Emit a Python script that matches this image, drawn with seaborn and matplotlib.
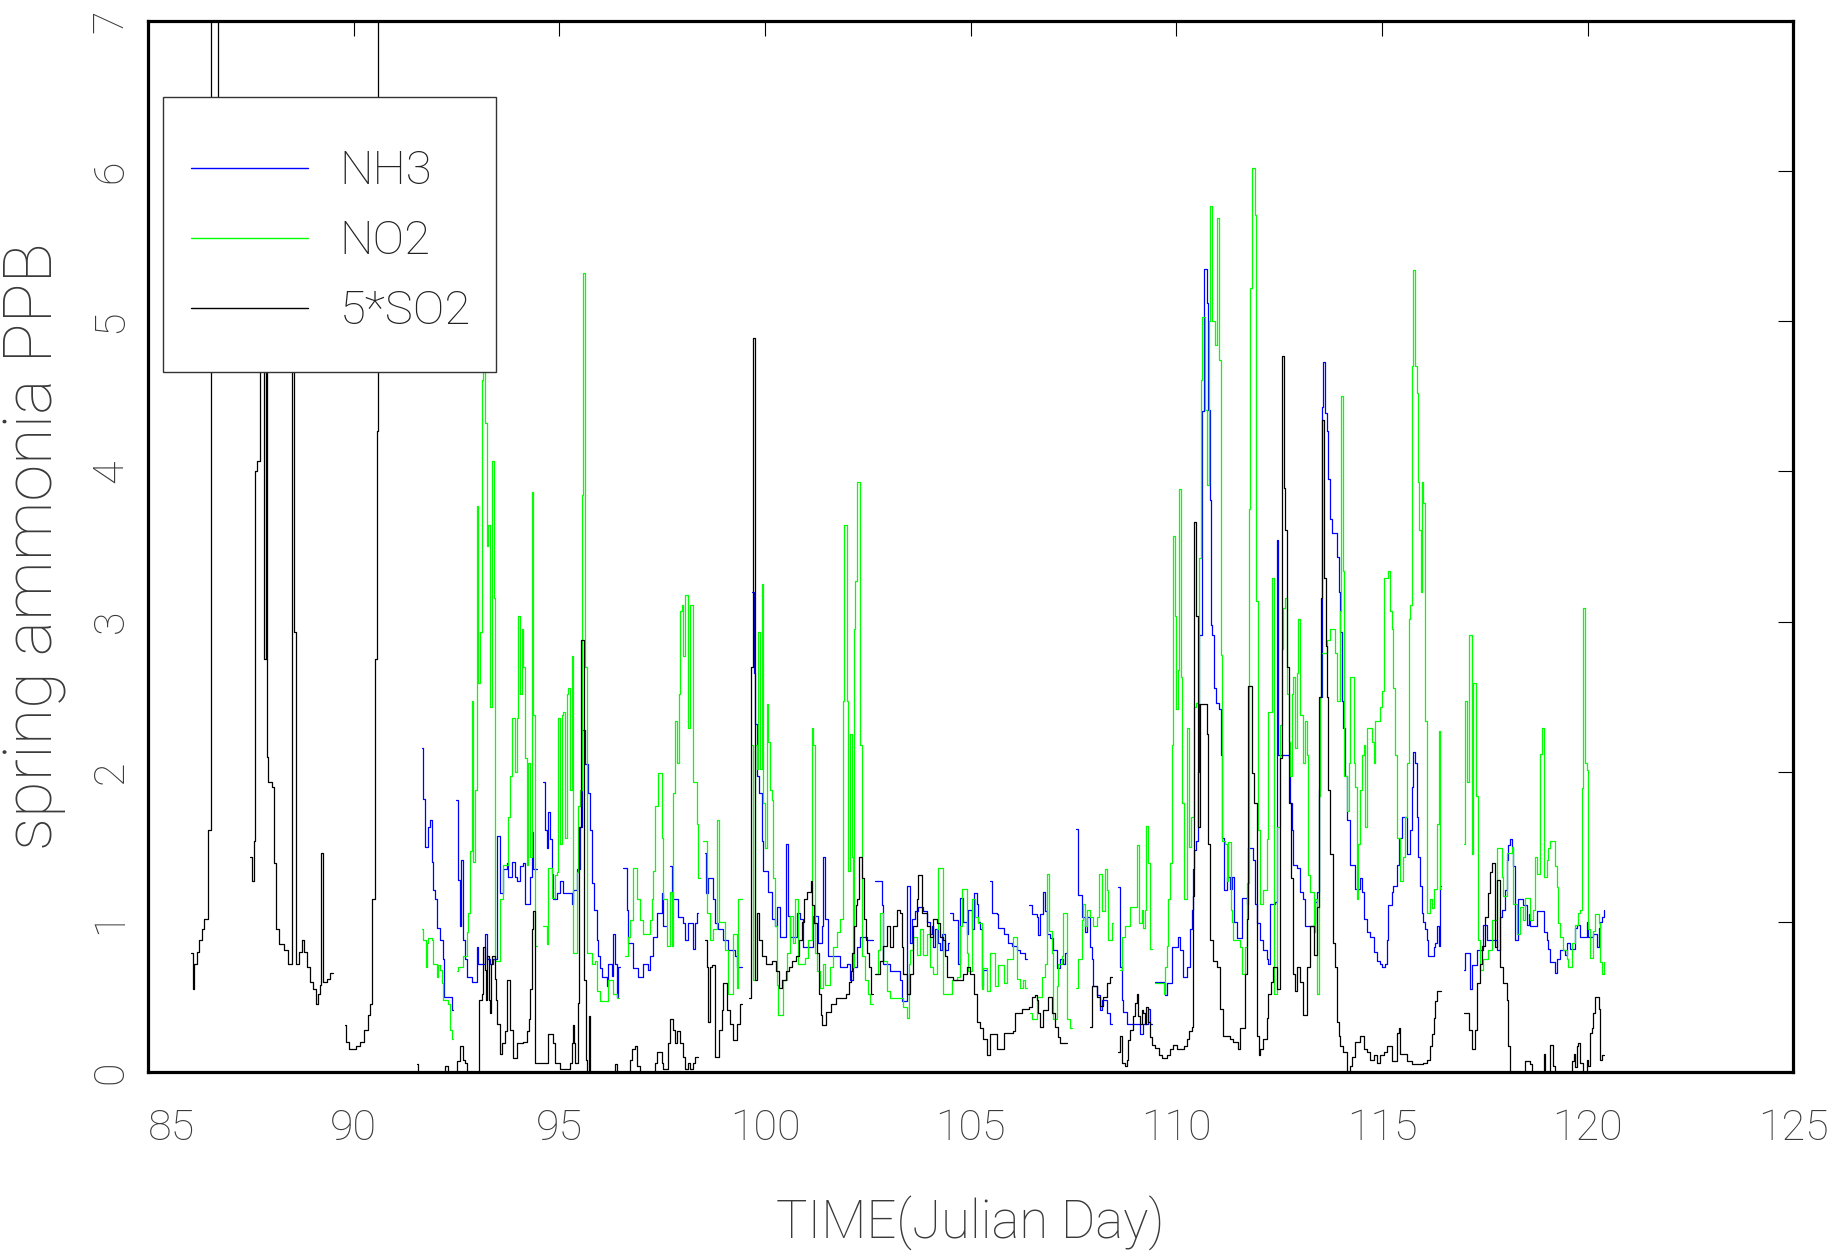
import numpy as np
import pandas as pd
import matplotlib
matplotlib.use("Agg")
import matplotlib.pyplot as plt
from matplotlib.lines import Line2D
from matplotlib.patches import Rectangle
import seaborn as sns

NAN = float("nan")

# ---------------- data (Julian day, ppb) ; NAN marks a gap ----------------
nh3_day = [91.655, 91.695, 91.736, 91.817, 91.858, 91.898, 91.939, 91.979, 92.02, 92.10, 92.165, 92.206, 92.344, 92.384, 92.425,
           92.49, 92.546, 92.587, 92.603, 92.652, 92.709, 92.749, 92.87, 92.992, 93.033, 93.195, 93.235, 93.316, 93.397, 93.495,
           93.56, 93.64, 93.72, 93.76, 93.84, 93.92, 93.965, 94.045, 94.127, 94.168, 94.289, 94.33, 94.37, 94.45,
           94.613, 94.654, 94.694, 94.735, 94.775, 94.816, 94.856, 94.937, 95.018, 95.10, 95.302, 95.343, 95.424, 95.505, 95.545,
           95.635, 95.708, 95.748, 95.79, 95.845, 95.91, 95.95, 95.99, 96.03, 96.15, 96.19, 96.275, 96.315, 96.356, 96.396, 96.437, 96.478,
           96.559, 96.64, 96.68, 96.80, 96.924, 97.045, 97.166, 97.207, 97.288, 97.369, 97.49, 97.53, 97.588,
           97.693, 97.734, 97.896, 98.018, 98.058, 98.14, 98.26, 98.30, 98.34, 98.38,
           98.544, 98.57, 98.625, 98.747, 98.787, 98.868, 98.99, 99.11, 99.274, 99.314, 99.44,
           99.679, 99.736, 99.76, 99.817, 99.866, 99.922, 99.963, 100.085, 100.166, 100.247, 100.287, 100.368, 100.514, 100.555,
           100.61, 100.773, 100.855, 100.936, 101.098, 101.179, 101.30, 101.381, 101.42, 101.462, 101.543, 101.706, 101.827,
           101.99, 102.07, 102.15, 102.233, 102.314, 102.476, 102.62,
           102.678, 102.84, 102.88, 103.043, 103.286, 103.327, 103.45, 103.53, 103.57, 103.65, 103.73, 103.85, 103.935, 104.015,
           104.056, 104.097, 104.137, 104.218, 104.259, 104.30, 104.38, 104.46, 104.486,
           104.502, 104.583, 104.705, 104.745, 104.826, 104.907, 104.948, 105.03, 105.07, 105.15, 105.19, 105.23, 105.27, 105.31, 105.41,
           105.474, 105.515, 105.637, 105.677, 105.80, 105.92, 106.00, 106.123, 106.20, 106.326, 106.366,
           106.43, 106.488, 106.61, 106.65, 106.69, 106.77, 106.812, 106.852, 106.933, 107.014, 107.095, 107.176, 107.257, 107.298, 107.355,
           107.566, 107.622, 107.703, 107.785, 107.825, 107.906, 107.946, 107.987, 108.068, 108.15, 108.19, 108.31, 108.39, 108.43,
           108.595, 108.635, 108.676, 108.717, 108.797, 109.122, 109.203, 109.325, 109.365, 109.42,
           109.487, 109.73, 109.77, 109.892, 110.054, 110.095, 110.175, 110.257, 110.338, 110.378, 110.419, 110.443, 110.48, 110.52,
           110.55, 110.62, 110.68, 110.75, 110.78, 110.81, 110.84, 110.88, 110.92, 110.97, 111.04, 111.08, 111.12, 111.17, 111.23,
           111.31, 111.35, 111.40, 111.47, 111.594, 111.715, 111.756, 111.878, 111.918, 111.96, 112.04, 112.12, 112.20, 112.24, 112.28,
           112.40, 112.445, 112.486, 112.73, 112.77, 112.81, 112.85, 112.93, 113.01, 113.09, 113.13, 113.34, 113.38, 113.42, 113.46,
           113.50, 113.54, 113.58, 113.62, 113.66, 113.70, 113.74, 113.78, 113.90, 113.945, 113.985, 114.026, 114.066, 114.107, 114.147,
           114.23, 114.35, 114.47, 114.51, 114.553, 114.63, 114.715, 114.80, 114.877, 114.96, 114.998, 115.08, 115.12, 115.16, 115.24,
           115.282, 115.363, 115.404, 115.485, 115.566, 115.606, 115.687, 115.728, 115.768, 115.81, 115.85, 115.89, 115.93, 115.97,
           116.01, 116.052, 116.09, 116.133, 116.215, 116.255, 116.30, 116.336, 116.377, 116.417, 116.43,
           116.985, 117.025, 117.147, 117.19, 117.31, 117.39, 117.47, 117.55, 117.63, 117.79, 117.875, 117.916, 117.997, 118.037,
           118.078, 118.118, 118.16, 118.20, 118.24, 118.32, 118.44, 118.52, 118.565, 118.605, 118.767, 118.93, 119.01, 119.05, 119.09,
           119.21, 119.25, 119.335, 119.456, 119.50, 119.577, 119.70, 119.74, 119.82, 119.98, 120.02, 120.145, 120.226, 120.267,
           120.31, 120.35, 120.39, 120.41]
nh3_ppb = [2.16, 1.82, 1.50, 1.63, 1.68, 1.40, 1.21, 1.15, 0.96, 0.88, 0.75, 0.50, 0.50, 0.41, NAN,
           1.81, 1.28, 0.97, 1.41, 0.88, 0.75, 0.63, 0.60, 0.83, 0.72, 0.92, 0.75, 0.72, 0.75, 1.57,
           1.19, 1.35, 1.39, 1.30, 1.40, 1.30, 1.27, 1.37, 1.39, 1.12, 1.30, 1.60, 1.35, NAN,
           1.93, 1.61, 1.49, 1.73, 1.55, 1.32, 1.15, 1.19, 1.27, 1.19, 1.12, 1.21, 1.35, 1.63, 2.28,
           2.05, 1.86, 1.61, 1.26, 1.08, 0.88, 0.77, 0.69, 0.63, 0.57, 0.72, 0.64, 0.92, 0.72, 0.50, 0.70, NAN,
           1.36, 1.08, 0.86, 0.69, 0.63, 0.72, 0.68, 0.77, 0.90, 1.06, 1.19, 0.97, NAN,
           1.37, 1.15, 1.03, 0.99, 0.88, 0.99, 0.82, 0.99, 1.06, NAN,
           1.46, 1.19, 1.29, 1.15, 0.99, 0.95, 0.88, 0.81, 0.77, 0.70, NAN,
           3.20, 2.66, 2.32, 1.97, 1.86, 1.54, 1.34, 1.20, 1.02, 0.97, 1.10, 0.90, 1.52, 1.04,
           0.90, 1.06, 1.02, 0.83, 0.83, 1.04, 0.86, 0.97, 1.43, 1.02, 0.77, 0.77, 0.70,
           0.72, 0.61, 0.70, 0.83, 0.90, 0.88, NAN,
           1.27, 1.11, 0.72, 0.67, 0.61, 0.47, 1.24, 0.86, 1.02, 1.07, 1.10, 1.07, 1.00, 0.92,
           0.97, 0.83, 0.95, 0.86, 0.81, 0.92, 0.81, 0.86, NAN,
           1.06, 1.01, 0.72, 1.16, 1.00, 0.92, 1.08, 0.95, 1.19, 1.12, 1.00, 0.95, 0.57, 0.68, NAN,
           1.27, 1.06, 1.05, 0.96, 0.92, 0.86, 0.84, 0.81, 0.79, 0.75, NAN,
           1.11, 1.05, 1.03, 0.91, 1.05, 1.20, 1.07, 0.92, 0.89, 0.81, 0.69, 0.75, 0.72, 0.79, NAN,
           1.62, 1.18, 1.03, 0.93, 1.03, 0.83, 0.75, 0.57, 0.51, 0.41, 0.48, 0.39, 0.32, NAN,
           1.23, 0.70, 0.48, 0.40, 0.32, 0.25, 0.32, 0.42, 0.32, NAN,
           0.60, 0.51, 0.59, 0.83, 0.90, 0.81, 0.63, 0.70, 0.95, 1.08, 1.35, 1.48, 1.54, 2.00,
           2.91, 4.40, 5.35, 5.12, 4.41, 3.81, 2.98, 2.91, 2.56, 2.46, 2.42, 2.11, 1.56, 1.21, 1.30,
           1.22, 1.30, 1.00, 0.89, 1.16, 1.12, 1.49, 1.41, 1.12, 0.99, 0.88, 0.81, 0.75, 0.72, 1.12,
           1.13, 3.54, 2.11, 2.09, 1.79, 1.61, 1.38, 1.36, 1.20, 1.15, 0.97, 0.99, 1.13, 1.20, 1.88,
           2.50, 4.43, 4.73, 4.39, 4.27, 3.95, 3.68, 3.59, 3.43, 3.20, 2.93, 2.47, 2.29, 1.97, 1.68,
           1.38, 1.22, 1.29, 1.20, 1.02, 0.93, 0.90, 0.80, 0.74, 0.72, 0.70, 0.72, 0.88, 1.11, 1.20,
           1.24, 1.38, 1.56, 1.70, 1.70, 1.45, 1.61, 1.90, 2.13, 2.06, 1.70, 1.43, 1.24, 1.06,
           1.00, 0.95, 0.88, 0.77, 0.77, 0.83, 0.86, 0.97, 0.84, 1.24, NAN,
           0.68, 0.79, 0.55, 0.71, 0.81, 0.81, 0.98, 0.88, 0.88, 0.81, 1.03, 1.08, 1.21, 1.41,
           1.51, 1.55, 1.50, 1.37, 0.88, 1.15, 1.11, 0.98, 1.05, 0.97, 1.07, 0.93, 0.88, 0.82, 0.73,
           0.66, 0.75, 0.81, 0.78, 0.86, 0.82, 0.96, 0.98, 0.90, 1.00, 0.90, 0.92, 0.83, 0.96,
           1.00, 1.03, 1.08, NAN]

no2_day = [91.655, 91.695, 91.76, 91.776, 91.817, 91.898, 91.939, 92.02, 92.06, 92.10, 92.14, 92.18, 92.30, 92.344, 92.384, 92.425,
           92.52, 92.546, 92.668, 92.75, 92.79, 92.83, 92.87, 92.91, 92.95, 92.99, 93.03, 93.07, 93.11, 93.15, 93.195, 93.235,
           93.276, 93.316, 93.357, 93.40, 93.438, 93.56, 93.64, 93.76, 93.80, 93.843, 93.924, 93.965, 94.005, 94.046, 94.086,
           94.127, 94.167, 94.208, 94.248, 94.29, 94.33, 94.37, 94.41, 94.45,
           94.613, 94.694, 94.735, 94.816, 94.897, 94.937, 94.978, 95.018, 95.059, 95.10, 95.14, 95.18, 95.22, 95.26, 95.30,
           95.34, 95.42, 95.464, 95.505, 95.545, 95.586, 95.634, 95.667, 95.79, 95.87, 95.91, 95.99, 96.15, 96.19, 96.315, 96.396, 96.45,
           96.60, 96.68, 96.72, 96.80, 96.88, 96.96, 97.045, 97.207, 97.247, 97.288, 97.33, 97.41, 97.49, 97.53, 97.61, 97.69,
           97.73, 97.77, 97.815, 97.855, 97.90, 97.936, 97.977, 98.017, 98.058, 98.14, 98.18, 98.26, 98.34, 98.38, 98.42,
           98.504, 98.585, 98.666, 98.747, 98.828, 98.89, 99.03, 99.112, 99.233, 99.315, 99.355, 99.436,
           99.679, 99.72, 99.76, 99.80, 99.84, 99.882, 99.922, 99.963, 100.0, 100.044, 100.085, 100.125, 100.166, 100.206,
           100.247, 100.287, 100.328, 100.45, 100.53, 100.61, 100.692, 100.733, 100.814, 100.976, 101.057, 101.138, 101.179,
           101.22, 101.26, 101.34, 101.42, 101.462, 101.584, 101.665, 101.746, 101.827, 101.892, 101.925, 101.99, 102.03,
           102.07, 102.11, 102.135, 102.167, 102.20, 102.233, 102.314, 102.37, 102.435, 102.516, 102.557, 102.638,
           102.703, 102.76, 102.80, 102.88, 102.962, 103.043, 103.367, 103.448, 103.49, 103.53, 103.61, 103.69, 103.77, 103.85,
           103.935, 104.015, 104.097, 104.178, 104.218, 104.324, 104.54, 104.664, 104.745, 104.786, 104.907, 104.948, 105.029,
           105.11, 105.19, 105.27, 105.31, 105.39, 105.47, 105.596, 105.677, 105.80, 105.88, 106.04, 106.12, 106.20, 106.285,
           106.326, 106.366,
           106.447, 106.488, 106.61, 106.73, 106.81, 106.852, 106.917, 106.974, 107.014, 107.095, 107.136, 107.217, 107.257,
           107.34, 107.42, 107.46,
           107.566, 107.622, 107.703, 107.744, 107.785, 107.825, 107.906, 107.987, 108.068, 108.11, 108.19, 108.27, 108.31,
           108.35, 108.43, 108.473,
           108.62, 108.676, 108.757, 108.88, 109.04, 109.057, 109.105, 109.16, 109.203, 109.244, 109.268, 109.325, 109.365, 109.42,
           109.487, 109.69, 109.73, 109.77, 109.81, 109.85, 109.892, 109.92, 109.97, 110.00, 110.04, 110.07, 110.11, 110.14,
           110.18, 110.26, 110.30, 110.36, 110.42, 110.48, 110.55, 110.59, 110.63, 110.71, 110.75, 110.79, 110.82, 110.87,
           110.94, 110.98, 111.04, 111.08, 111.12, 111.19, 111.23, 111.27, 111.33, 111.367, 111.39, 111.55, 111.594, 111.675,
           111.715, 111.77, 111.80, 111.85, 111.91, 111.94, 111.98, 112.04, 112.12, 112.20, 112.24, 112.32, 112.37, 112.45,
           112.526, 112.567, 112.607, 112.648, 112.688, 112.73, 112.77, 112.81, 112.85, 112.89, 112.93, 112.97, 113.01, 113.09,
           113.13, 113.17, 113.215, 113.256, 113.34, 113.378, 113.42, 113.46, 113.483, 113.523, 113.66, 113.74, 113.86, 113.90,
           113.97, 114.01, 114.066, 114.09, 114.16, 114.19, 114.23, 114.31, 114.35, 114.39, 114.43, 114.47, 114.51, 114.553,
           114.59, 114.634, 114.755, 114.80, 114.837, 114.96, 115.00, 115.04, 115.16, 115.20, 115.24, 115.28, 115.32, 115.363,
           115.444, 115.525, 115.566, 115.606, 115.647, 115.687, 115.728, 115.768, 115.81, 115.85, 115.89, 115.914, 115.955,
           115.98, 116.01, 116.052, 116.09, 116.174, 116.215, 116.255, 116.336, 116.377, 116.417, 116.43,
           116.985, 117.025, 117.065, 117.106, 117.13, 117.195, 117.227, 117.29, 117.325, 117.39, 117.47, 117.59, 117.67, 117.79,
           117.916, 117.956, 118.037, 118.16, 118.20, 118.28, 118.36, 118.44, 118.48, 118.605, 118.686, 118.727, 118.767, 118.85,
           118.89, 118.953, 119.01, 119.05, 119.09, 119.21, 119.25, 119.29, 119.335, 119.415, 119.50, 119.537, 119.618, 119.70,
           119.78, 119.82, 119.86, 119.90, 119.94, 119.98, 120.02, 120.06, 120.145, 120.186, 120.267, 120.31, 120.35, 120.39, 120.41]
no2_ppb = [0.95, 0.88, 0.70, 0.86, 0.89, 0.88, 0.72, 0.63, 0.71, 0.68, 0.59, 0.48, 0.45, 0.28, 0.22, NAN,
           0.67, 0.70, 0.77, 0.93, 1.06, 1.47, 2.47, 1.40, 1.88, 3.77, 2.59, 2.93, 4.61, 5.20, 4.32, 3.50,
           3.64, 2.43, 4.07, 3.16, 0.74, 1.15, 1.38, 1.70, 1.97, 2.36, 2.00, 2.36, 3.04, 2.52, 2.95,
           2.70, 2.09, 1.38, 2.06, 1.43, 3.86, 2.38, 0.84, NAN,
           0.97, 0.85, 1.36, 1.16, 1.31, 1.33, 2.36, 1.52, 2.38, 2.40, 1.56, 2.52, 2.56, 1.88, 2.77,
           0.79, 1.33, 1.77, 1.88, 3.84, 5.32, 2.70, 0.79, 0.72, 0.74, 0.54, 0.47, 0.47, 0.61, 0.52, 0.49, NAN,
           0.77, 0.90, 1.01, 1.36, 1.15, 1.01, 0.92, 1.01, 1.15, 1.34, 1.77, 1.99, 1.56, 1.15, 0.84, 1.20,
           0.84, 1.86, 2.34, 2.06, 2.52, 3.07, 3.11, 2.77, 3.18, 2.29, 3.11, 1.93, 1.65, 1.29, NAN,
           1.54, 1.06, 0.88, 0.95, 1.68, 1.00, 0.81, 0.52, 0.92, 0.56, 1.15, NAN,
           2.18, 0.61, 2.18, 2.02, 2.93, 2.02, 3.25, 1.79, 1.49, 2.45, 2.20, 1.88, 1.81, 1.29,
           0.97, 0.58, 0.38, 0.61, 0.79, 1.04, 0.86, 1.15, 0.72, 0.76, 0.88, 2.29, 2.18,
           0.79, 0.67, 0.56, 0.72, 0.58, 0.70, 0.83, 0.93, 1.02, 2.47, 3.64, 2.47, 1.34,
           2.25, 1.43, 0.70, 2.95, 3.27, 3.93, 2.18, 0.77, 0.61, 0.52, 0.45, NAN,
           0.65, 0.81, 1.06, 0.74, 0.54, 0.49, 0.43, 0.36, 0.72, 0.81, 0.90, 0.78, 0.95, 0.78,
           0.92, 0.70, 0.65, 0.95, 1.36, 0.52, 0.61, 0.63, 0.97, 1.22, 0.79, 0.67, 1.15,
           1.03, 0.99, 0.55, 0.69, 0.54, 0.79, 0.57, 0.71, 0.59, 0.75, 0.90, 0.62, 0.56, 0.61,
           0.56, NAN,
           0.39, 0.35, 0.50, 0.63, 0.72, 1.32, 0.94, 0.79, 0.35, 0.57, 0.72, 0.77, 1.06,
           0.35, 0.29, NAN,
           0.56, 0.75, 1.01, 1.12, 0.97, 1.08, 1.03, 0.97, 1.03, 1.32, 1.07, 1.35, 1.21,
           0.88, 0.99, NAN,
           0.68, 0.90, 0.97, 1.10, 1.19, 1.51, 0.99, 1.08, 0.96, 1.08, 1.64, 1.39, 0.82, NAN,
           0.59, 0.52, 0.70, 0.84, 1.15, 1.39, 2.18, 3.57, 3.04, 2.42, 2.68, 3.88, 2.63, 1.79,
           1.15, 2.29, 1.50, 1.70, 2.43, 2.46, 3.42, 4.61, 5.03, 4.41, 3.91, 5.00, 5.77, 5.00,
           4.84, 5.69, 4.74, 2.78, 1.54, 1.52, 1.27, 1.53, 1.08, 1.00, 0.88, 0.83, 0.65, 0.83,
           1.26, 3.75, 5.22, 6.02, 5.71, 3.14, 1.61, 1.12, 1.21, 1.55, 2.40, 3.29, 0.52, 1.63,
           2.31, 2.82, 3.09, 3.16, 2.52, 2.20, 1.97, 2.52, 2.63, 2.16, 2.66, 3.02, 2.38, 2.06,
           2.34, 2.11, 1.31, 1.20, 0.93, 1.15, 0.52, 1.84, 2.50, 2.79, 2.88, 2.95, 2.79, 2.47,
           3.07, 4.50, 3.34, 1.97, 1.74, 2.06, 2.63, 2.06, 1.90, 1.15, 1.52, 1.88, 2.11, 2.18,
           1.63, 2.29, 2.20, 2.06, 2.34, 2.43, 2.54, 3.29, 3.34, 3.07, 2.95, 2.56, 2.11, 1.56,
           1.27, 1.43, 1.70, 2.06, 3.02, 3.11, 4.70, 5.34, 4.70, 4.52, 3.93, 3.61, 3.20,
           3.93, 3.79, 2.34, 1.06, 1.15, 1.09, 1.22, 1.65, 2.27, 1.22, NAN,
           1.52, 2.47, 1.93, 2.50, 2.91, 1.45, 2.59, 1.84, 0.88, 0.68, 0.75, 0.81, 1.01, 1.49,
           1.30, 1.17, 1.46, 1.50, 1.12, 0.92, 1.10, 1.01, 1.16, 1.01, 1.08, 1.43, 1.32, 2.12,
           2.29, 1.30, 1.41, 1.49, 1.54, 1.37, 1.23, 0.99, 0.90, 0.81, 0.75, 0.70, 0.86, 0.98,
           1.06, 1.08, 1.89, 3.09, 2.06, 2.01, 0.95, 0.76, 0.94, 1.05, 0.99, 0.73, 0.65, 0.73, NAN]

so2_day = [86.04, 86.08, 86.12, 86.18, 86.24, 86.30, 86.36, 86.45, 86.52, 86.69, 86.73,
           87.48, 87.52, 87.58, 87.61, 87.66, 87.71, 87.83, 87.86, 87.88, 87.92, 88.02, 88.07, 88.11, 88.18, 88.31, 88.40,
           88.49, 88.55, 88.60, 88.66, 88.75, 88.80, 88.86, 88.93, 89.00, 89.08, 89.13, 89.17, 89.21, 89.25, 89.35, 89.42, 89.49,
           89.79, 89.82, 89.88, 90.05, 90.15, 90.25, 90.34, 90.40, 90.45, 90.52, 90.56, 90.60, 90.75,
           91.533, 91.574, 92.222, 92.303, 92.506, 92.587, 92.668, 92.709, 92.749, 93.057, 93.114, 93.154, 93.195, 93.22,
           93.252, 93.284, 93.316, 93.34, 93.365, 93.43, 93.462, 93.495, 93.56, 93.60, 93.68, 93.738, 93.80, 93.884, 93.965,
           94.127, 94.208, 94.25, 94.289, 94.33, 94.354, 94.41, 94.695, 94.735, 94.856, 94.897, 95.018, 95.262, 95.302,
           95.326, 95.359, 95.39, 95.448, 95.48, 95.537, 95.61, 95.64, 95.67, 95.71, 95.75, 96.356, 96.40, 96.72, 96.76,
           96.84, 96.88, 96.964, 97.33, 97.37, 97.49, 97.53, 97.65, 97.693, 97.775, 97.815, 97.855, 97.936, 98.018, 98.058,
           98.14, 98.18, 98.26, 98.30, 98.366,
           98.544, 98.585, 98.625, 98.666, 98.71, 98.79, 98.87, 98.95, 98.99, 99.03, 99.07, 99.15, 99.23, 99.31, 99.39, 99.44,
           99.60, 99.663, 99.704, 99.755, 99.801, 99.866, 99.939, 100.02, 100.182, 100.263, 100.344, 100.425, 100.506,
           100.587, 100.668, 100.749, 100.83, 100.911, 100.952, 101.033, 101.114, 101.155, 101.196, 101.276, 101.317,
           101.357, 101.398, 101.479, 101.60, 101.722, 101.843, 101.965, 102.046, 102.087, 102.127, 102.168, 102.208,
           102.249, 102.289, 102.37, 102.41, 102.45, 102.49, 102.532, 102.573, 102.62,
           102.678, 102.80, 102.88, 102.962, 103.043, 103.124, 103.205, 103.286, 103.327, 103.367, 103.448, 103.53, 103.61,
           103.69, 103.73, 103.81, 103.935, 104.015, 104.097, 104.178, 104.26, 104.34, 104.38, 104.42, 104.583, 104.826,
           104.907, 104.988, 105.07, 105.15, 105.23, 105.31, 105.394, 105.475, 105.637, 105.80, 106.04, 106.08, 106.245,
           106.41, 106.488, 106.57, 106.61, 106.65, 106.69, 106.77, 106.893, 106.974, 107.055, 107.136, 107.176, 107.34,
           107.906, 107.946, 108.068, 108.15, 108.23, 108.31, 108.39, 108.43,
           108.595, 108.635, 108.676, 108.757, 108.80, 108.838, 108.88, 108.96, 109.00, 109.04, 109.08, 109.12, 109.16,
           109.203, 109.244, 109.27, 109.325, 109.365, 109.42, 109.49, 109.57, 109.65, 109.77, 109.85, 109.93, 110.01,
           110.10, 110.20, 110.26, 110.30, 110.38, 110.41, 110.43, 110.49, 110.53, 110.57, 110.74, 110.78, 110.82, 110.90,
           110.986, 111.07, 111.148, 111.31, 111.39, 111.513, 111.553, 111.675, 111.716, 111.74, 111.84, 111.88, 111.96,
           112.00, 112.04, 112.12, 112.20, 112.24, 112.30, 112.36, 112.45, 112.526, 112.575, 112.624, 112.648, 112.688,
           112.753, 112.786, 112.85, 112.89, 112.93, 113.01, 113.09, 113.17, 113.256, 113.34, 113.42, 113.475, 113.515,
           113.54, 113.596, 113.636, 113.66, 113.70, 113.74, 113.82, 113.86, 113.90, 113.945, 113.985, 114.066, 114.147,
           114.23, 114.27, 114.35, 114.47, 114.553, 114.634, 114.715, 114.80, 114.877, 114.96, 115.04, 115.12, 115.24,
           115.363, 115.404, 115.444, 115.606, 115.73, 115.85, 116.00, 116.09, 116.174, 116.215, 116.255, 116.30, 116.336,
           116.43,
           116.985, 117.107, 117.19, 117.27, 117.31, 117.39, 117.43, 117.51, 117.59, 117.63, 117.67, 117.754, 117.794,
           117.875, 117.956, 118.037, 118.078, 118.118, 118.48, 118.605, 118.645, 118.93, 118.97, 119.09, 119.17, 119.21,
           119.618, 119.66, 119.70, 119.74, 119.78, 119.82, 119.90, 119.98, 120.02, 120.06, 120.10, 120.145, 120.186,
           120.267, 120.31, 120.35, 120.41]
so2_x5 = [0.79, 0.55, 0.72, 0.80, 0.88, 0.95, 1.02, 1.61, 9.0, 5.5, NAN,
          1.43, 1.27, 1.54, 4.00, 4.07, 5.6, 2.75, 5.3, 2.10, 1.93, 1.90, 1.39, 0.95, 0.85, 0.81, 0.72,
          5.5, 2.93, 0.72, 0.80, 0.88, 0.80, 0.70, 0.60, 0.55, 0.45, 0.52, 0.58, 1.46, 0.60, 0.62, 0.66, NAN,
          0.31, 0.20, 0.15, 0.17, 0.20, 0.28, 0.38, 0.45, 1.15, 2.75, 4.27, 9.0, NAN,
          0.05, 0.00, 0.04, 0.00, 0.07, 0.17, 0.08, 0.06, 0.00, 0.48, 0.52, 0.83, 0.68, 0.48,
          0.77, 0.48, 0.39, 0.72, 0.77, 0.62, 0.48, 0.32, 0.12, 0.19, 0.27, 0.61, 0.28, 0.09, 0.19,
          0.20, 0.27, 0.35, 0.55, 0.95, 1.07, 0.06, 0.06, 0.25, 0.19, 0.06, 0.02, 0.06, 0.19,
          0.31, 0.19, 0.06, 0.46, 1.63, 2.88, 0.61, 0.08, 0.00, 0.37, 0.00, 0.05, 0.00, 0.08, 0.15,
          0.17, 0.04, 0.00, 0.06, 0.13, 0.06, 0.02, 0.19, 0.35, 0.28, 0.19, 0.27, 0.19, 0.10, 0.02,
          0.06, 0.02, 0.06, 0.10, NAN,
          0.88, 0.70, 0.33, 0.70, 0.71, 0.10, 0.28, 0.41, 0.59, 0.59, 0.41, 0.32, 0.21, 0.32, 0.45, NAN,
          0.49, 2.70, 4.89, 0.61, 1.06, 0.88, 0.77, 0.72, 0.74, 0.67, 0.56, 0.61, 0.67,
          0.70, 0.74, 0.77, 0.88, 1.00, 1.15, 1.20, 1.27, 1.11, 0.99, 0.79, 0.52,
          0.38, 0.31, 0.40, 0.45, 0.49, 0.49, 0.52, 0.60, 0.67, 0.79, 0.97, 1.11,
          1.15, 1.43, 1.29, 1.02, 0.88, 0.79, 0.70, 0.52, NAN,
          0.65, 0.74, 0.84, 0.97, 0.83, 0.97, 1.08, 1.06, 0.83, 0.65, 0.52, 0.65, 0.97,
          1.15, 1.31, 1.06, 0.97, 0.90, 1.02, 0.99, 0.90, 0.88, 0.77, 0.63, 0.61, 0.65,
          0.70, 0.65, 0.52, 0.33, 0.29, 0.22, 0.11, 0.25, 0.15, 0.26, 0.27, 0.39, 0.42,
          0.43, 0.50, 0.51, 0.48, 0.39, 0.30, 0.41, 0.50, 0.39, 0.30, 0.23, 0.19, NAN,
          0.30, 0.57, 0.50, 0.44, 0.50, 0.59, 0.63, NAN,
          0.13, 0.24, 0.06, 0.04, 0.08, 0.21, 0.28, 0.37, 0.46, 0.52, 0.37, 0.32, 0.41,
          0.39, 0.32, 0.43, 0.33, 0.23, 0.18, 0.16, 0.11, 0.09, 0.11, 0.15, 0.18, 0.15,
          0.15, 0.17, 0.22, 0.27, 0.30, 1.17, 3.66, 3.04, 1.63, 2.45, 2.25, 1.52, 0.88, 0.74,
          0.70, 0.42, 0.24, 0.22, 0.20, 0.15, 0.29, 0.65, 1.02, 2.57, 1.99, 1.79, 0.24,
          0.11, 0.15, 0.22, 0.36, 0.52, 0.60, 0.70, 0.55, 2.09, 4.77, 3.89, 3.61, 2.70,
          1.79, 1.29, 0.65, 0.54, 0.70, 0.60, 0.38, 0.70, 0.97, 0.78, 1.10, 2.50, 3.16,
          4.34, 3.29, 2.84, 2.50, 1.88, 1.45, 0.86, 0.70, 0.33, 0.24, 0.17, 0.13, 0.00,
          0.04, 0.10, 0.20, 0.24, 0.15, 0.13, 0.08, 0.11, 0.06, 0.11, 0.13, 0.17, 0.07,
          0.26, 0.29, 0.12, 0.07, 0.05, 0.05, 0.06, 0.08, 0.17, 0.25, 0.36, 0.47, 0.54,
          NAN,
          0.39, 0.28, 0.15, 0.28, 0.59, 0.72, 0.84, 1.03, 1.19, 1.33, 1.39, 0.83, 1.28,
          0.70, 0.59, 0.48, 0.17, 0.00, 0.07, 0.05, 0.00, 0.12, 0.00, 0.18, 0.04, 0.00,
          0.07, 0.12, 0.03, 0.17, 0.19, 0.06, 0.00, 0.08, 0.04, 0.26, 0.29, 0.39, 0.50,
          0.42, 0.08, 0.11, NAN]

series_names = ["NH3", "NO2", "5*SO2"]
series_colors = ["#0000ff", "#00ff00", "#000000"]
x_ticks = [85, 90, 95, 100, 105, 110, 115, 120, 125]
y_ticks = [0, 1, 2, 3, 4, 5, 6, 7]
x_title = "TIME(Julian Day)"
y_title = "spring ammonia PPB"


def build_frame(name, days, values):
    """Split a series at NaN gaps; each piece is closed at the gap time (step-post)."""
    rows, seg, prev = [], 0, None
    for d, v in zip(days, values):
        if np.isnan(v):
            if prev is not None:
                rows.append((name, f"{name}-{seg}", d, prev))
            seg += 1
            prev = None
        else:
            rows.append((name, f"{name}-{seg}", d, v))
            prev = v
    return pd.DataFrame(rows, columns=["series", "segment", "day", "ppb"])


frames = [build_frame("NH3", nh3_day, nh3_ppb),
          build_frame("NO2", no2_day, no2_ppb),
          build_frame("5*SO2", so2_day, so2_x5)]

sns.set_theme(style="white")
plt.rcParams["font.family"] = ["Roboto", "DejaVu Sans"]
plt.rcParams["font.weight"] = "light"

fig = plt.figure(figsize=(18.35, 12.56), dpi=100)
ax = fig.add_axes([0.0807, 0.1465, 0.8965, 0.8368])

for df, color in zip(frames, series_colors):
    sns.lineplot(data=df, x="day", y="ppb", units="segment", estimator=None,
                 color=color, drawstyle="steps-post", linewidth=0.9,
                 sort=False, legend=False, ax=ax)

ax.set_xlim(85, 125)
ax.set_ylim(0, 7)
ax.set_xticks(x_ticks)
ax.set_yticks(y_ticks)
ax.set_xticklabels([str(t) for t in x_ticks])
ax.set_yticklabels([str(t) for t in y_ticks], rotation=90, va="center")
ax.get_xticklabels()[0].set_horizontalalignment("left")

label_color = "#3a3a3a"
ax.tick_params(axis="both", which="both", direction="in", length=11, width=0.8,
               color="black", top=True, right=True, labelsize=31,
               labelcolor=label_color)
ax.tick_params(axis="x", pad=26)
ax.tick_params(axis="y", pad=12)
for lab in ax.get_xticklabels() + ax.get_yticklabels():
    lab.set_fontweight("light")

for sp in ax.spines.values():
    sp.set_linewidth(2.3)
    sp.set_color("black")

ax.set_xlabel(x_title, fontsize=38, color=label_color, fontweight="light")
ax.set_ylabel(y_title, fontsize=48, color=label_color, fontweight="light")
ax.xaxis.set_label_coords(0.5, -0.118)
ax.yaxis.set_label_coords(-0.049, 0.5)

# legend box (frame drawn as an axes-fraction rectangle) and its entries
legend_box = Rectangle((0.0091, 0.666), 0.2025, 0.2617, transform=ax.transAxes,
                       facecolor="white", edgecolor="#333333", linewidth=1.0,
                       zorder=4.5)
ax.add_patch(legend_box)

handles = [Line2D([0], [0], color=c, linewidth=1.0) for c in series_colors]
leg = ax.legend(handles, series_names, loc="upper left",
                bbox_to_anchor=(0.0261, 0.878), borderaxespad=0,
                fontsize=34, handlelength=2.48, handletextpad=0.66,
                labelspacing=0.55, borderpad=0.0, frameon=False)
leg.set_zorder(5)
for t in leg.get_texts():
    t.set_color("#222222")
    t.set_fontweight("light")

fig.savefig("out.png", dpi=100)
